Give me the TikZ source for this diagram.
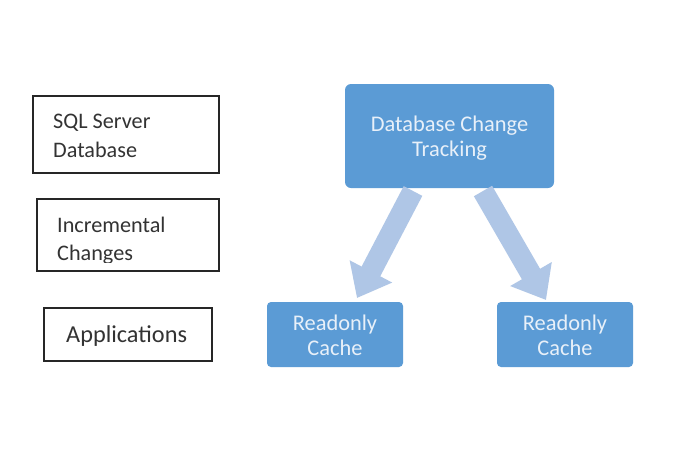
\documentclass[tikz,border=0pt]{standalone}
\usepackage{fontspec}
\setmainfont{Carlito}
\usetikzlibrary{arrows.meta}
\definecolor{boxblue}{HTML}{5B9BD5}
\definecolor{arrowblue}{HTML}{AFC6E6}
\definecolor{lighttext}{HTML}{E8F0F9}
\definecolor{darktext}{HTML}{333333}
\begin{document}
\begin{tikzpicture}[x=1pt,y=-1pt,
  outline/.style={draw=black!85, line width=1.6pt},
  bluebox/.style={fill=boxblue, rounded corners=6pt},
  lefttext/.style={anchor=base west, inner sep=0pt, text=darktext, font=\fontsize{22.2}{26}\selectfont},
  bluetext/.style={align=center, inner sep=0pt, text=lighttext, font=\fontsize{22.4}{25}\selectfont},
  blockarrow/.style={draw=arrowblue, line width=21pt, -{Triangle[width=46pt,length=30pt]}}
]
\useasboundingbox (0,0) rectangle (696,464);
\fill[white] (0,0) rectangle (696,464);
% left boxes
\draw[outline] (33,96) rectangle (219,173);
\node[lefttext] (sql) at (53,128) {SQL Server};
\node[lefttext] (db) at (53,157) {Database};
\draw[outline] (37,199) rectangle (219,271);
\node[lefttext] (inc) at (57,232) {Incremental};
\begin{scope}
\clip (37,199) rectangle (219,262);
\node[lefttext] (chg) at (57,260) {Changes};
\end{scope}
\draw[outline] (44,308) rectangle (212,361);
\node[lefttext, font=\fontsize{24.3}{28}\selectfont] (app) at (66,342) {Applications};
% blue boxes
\fill[bluebox] (345,84) rectangle (554,188);
\node[bluetext] (dct) at (449.5,138) {Database Change\\Tracking};
\fill[bluebox, rounded corners=4pt] (267,302) rectangle (403,367);
\node[bluetext] (rc1) at (335,335) {Readonly\\Cache};
\fill[bluebox, rounded corners=4pt] (497,302) rectangle (633,367);
\node[bluetext] (rc2) at (565,335) {Readonly\\Cache};
% arrows
\coordinate (t1) at (413,191);
\coordinate (h1) at (357,298);
\coordinate (t2) at (483,191);
\coordinate (h2) at (546,300);
\draw[blockarrow] (t1) -- (h1);
\draw[blockarrow] (t2) -- (h2);
\end{tikzpicture}
\end{document}
